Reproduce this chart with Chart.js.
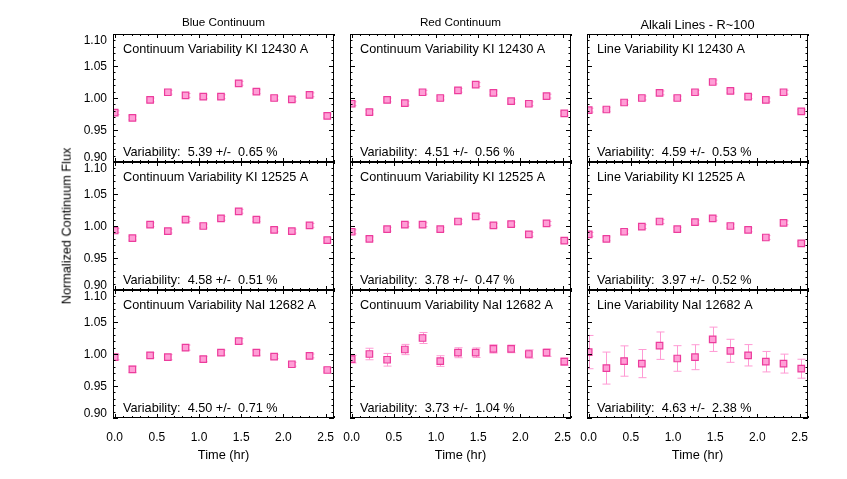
<!DOCTYPE html>
<html lang="en">
<head>
<meta charset="UTF-8">
<title>Continuum and line variability</title>
<style>
  body { margin: 0; background: #fff; font-family: "Liberation Sans", Arial, sans-serif; }
  #wrap { position: relative; width: 847px; height: 479px; overflow: hidden; background: #fff; }
  #wrap canvas { position: absolute; }
  .lbl { position: absolute; white-space: nowrap; color: #000; transform: translate(-50%, -50%); line-height: 1; }
</style>
</head>
<body>
<div id="wrap"></div>
<script src="https://cdn.jsdelivr.net/npm/chart.js@4.4.1/dist/chart.umd.min.js"></script>
<script>
// time of each exposure (hr)
const hours = [0.00, 0.21, 0.42, 0.63, 0.84, 1.05, 1.26, 1.47, 1.68, 1.89, 2.10, 2.31, 2.52];
const xTicks = ['0.0', '0.5', '1.0', '1.5', '2.0', '2.5'];
const yTicks = ['0.90', '0.95', '1.00', '1.05', '1.10'];
const columnTitles = ['Blue Continuum', 'Red Continuum', 'Alkali Lines - R~100'];

// normalized flux, one array per panel
const blueKI12430  = [0.977, 0.969, 0.997, 1.009, 1.004, 1.002, 1.002, 1.023, 1.010, 1.000, 0.998, 1.005, 0.972];
const redKI12430   = [0.991, 0.978, 0.997, 0.992, 1.009, 1.000, 1.012, 1.021, 1.008, 0.995, 0.991, 1.003, 0.976];
const lineKI12430  = [0.981, 0.982, 0.993, 1.000, 1.008, 1.000, 1.009, 1.025, 1.011, 1.002, 0.997, 1.009, 0.979];
const blueKI12525  = [0.993, 0.981, 1.002, 0.992, 1.010, 1.000, 1.012, 1.023, 1.010, 0.994, 0.992, 1.001, 0.978];
const redKI12525   = [0.991, 0.980, 0.995, 1.002, 1.002, 0.995, 1.007, 1.015, 1.001, 1.003, 0.987, 1.004, 0.977];
const lineKI12525  = [0.987, 0.980, 0.991, 0.999, 1.007, 0.995, 1.006, 1.012, 1.000, 0.994, 0.982, 1.005, 0.973];
const blueNaI12682 = [0.995, 0.976, 0.998, 0.995, 1.010, 0.992, 1.002, 1.020, 1.002, 0.996, 0.984, 0.997, 0.975];
const redNaI12682  = [0.992, 1.000, 0.991, 1.007, 1.025, 0.989, 1.002, 1.002, 1.008, 1.008, 1.000, 1.002, 0.988];
const lineNaI12682 = [1.003, 0.978, 0.989, 0.985, 1.013, 0.993, 0.995, 1.023, 1.005, 0.998, 0.988, 0.985, 0.977];

// 1-sigma errors
const errBlueKI12430  = [0.003, 0.003, 0.003, 0.003, 0.003, 0.003, 0.003, 0.003, 0.003, 0.003, 0.003, 0.003, 0.003];
const errRedKI12430   = [0.003, 0.003, 0.003, 0.003, 0.003, 0.003, 0.003, 0.003, 0.003, 0.003, 0.003, 0.003, 0.003];
const errLineKI12430  = [0.003, 0.003, 0.003, 0.003, 0.003, 0.003, 0.003, 0.003, 0.003, 0.003, 0.003, 0.003, 0.003];
const errBlueKI12525  = [0.003, 0.003, 0.003, 0.003, 0.003, 0.003, 0.003, 0.003, 0.003, 0.003, 0.003, 0.003, 0.003];
const errRedKI12525   = [0.003, 0.003, 0.003, 0.003, 0.003, 0.003, 0.003, 0.003, 0.003, 0.003, 0.003, 0.003, 0.003];
const errLineKI12525  = [0.003, 0.003, 0.003, 0.003, 0.003, 0.003, 0.003, 0.003, 0.003, 0.003, 0.003, 0.003, 0.003];
const errBlueNaI12682 = [0.004, 0.005, 0.004, 0.004, 0.004, 0.004, 0.004, 0.004, 0.004, 0.003, 0.003, 0.003, 0.003];
const errRedNaI12682  = [0.006, 0.009, 0.0099, 0.008, 0.0086, 0.0083, 0.0078, 0.0075, 0.0065, 0.006, 0.0065, 0.0057, 0.0057];
const errLineNaI12682 = [0.026, 0.025, 0.0237, 0.022, 0.0214, 0.020, 0.0195, 0.019, 0.018, 0.0167, 0.016, 0.0148, 0.0148];

const panelTitles = [
  'Continuum Variability KI 12430 A', 'Continuum Variability KI 12430 A', 'Line Variability KI 12430 A',
  'Continuum Variability KI 12525 A', 'Continuum Variability KI 12525 A', 'Line Variability KI 12525 A',
  'Continuum Variability NaI 12682 A', 'Continuum Variability NaI 12682 A', 'Line Variability NaI 12682 A'
];
const variabilityText = [
  'Variability:  5.39 +/-  0.65 %', 'Variability:  4.51 +/-  0.56 %', 'Variability:  4.59 +/-  0.53 %',
  'Variability:  4.58 +/-  0.51 %', 'Variability:  3.78 +/-  0.47 %', 'Variability:  3.97 +/-  0.52 %',
  'Variability:  4.50 +/-  0.71 %', 'Variability:  3.73 +/-  1.04 %', 'Variability:  4.63 +/-  2.38 %'
];

const panelValues = [blueKI12430, redKI12430, lineKI12430, blueKI12525, redKI12525, lineKI12525, blueNaI12682, redNaI12682, lineNaI12682];
const panelErrors = [errBlueKI12430, errRedKI12430, errLineKI12430, errBlueKI12525, errRedKI12525, errLineKI12525, errBlueNaI12682, errRedNaI12682, errLineNaI12682];

// layout
const colLeft = [113, 350, 587];
const rowTop = [34, 162, 290];
const PW = 221, PH = 128;
const PAD = { left: 50, right: 8, top: 8, bottom: 30 };
const FONT = '"Liberation Sans", Arial, sans-serif';

// IDL-like frame: inward ticks on all sides, labels, in-panel notes, error bars
const idlFrame = {
  id: 'idlFrame',
  beforeDatasetsDraw(chart, args, opts) {
    const { ctx, chartArea: a, scales: { x, y } } = chart;
    ctx.save();
    ctx.beginPath();
    ctx.rect(a.left, a.top, a.width, a.height);
    ctx.clip();
    ctx.strokeStyle = '#ff9ad4';
    ctx.lineWidth = 1;
    chart.data.datasets[0].data.forEach((p, i) => {
      const px = Math.round(x.getPixelForValue(p.x)) + 0.5;
      const t = y.getPixelForValue(p.y + opts.errors[i]);
      const b = y.getPixelForValue(p.y - opts.errors[i]);
      ctx.beginPath();
      ctx.moveTo(px, t); ctx.lineTo(px, b);
      ctx.moveTo(px - 4, t); ctx.lineTo(px + 4, t);
      ctx.moveTo(px - 4, b); ctx.lineTo(px + 4, b);
      ctx.stroke();
    });
    ctx.restore();
  },
  afterDraw(chart, args, opts) {
    const { ctx, chartArea: a, scales: { x, y } } = chart;
    ctx.save();
    ctx.strokeStyle = '#000';
    ctx.lineWidth = 1;
    ctx.strokeRect(a.left + 0.5, a.top + 0.5, a.width - 1, a.height - 1);

    ctx.beginPath();
    // x ticks, every 0.1 hr, majors at the labels
    for (let k = 0; k <= 26; k++) {
      const v = k / 10;
      const px = Math.round(x.getPixelForValue(v)) + 0.5;
      const len = k % 5 === 0 ? 4 : 2;
      ctx.moveTo(px, a.bottom); ctx.lineTo(px, a.bottom - len);
      ctx.moveTo(px, a.top); ctx.lineTo(px, a.top + len);
    }
    // y ticks, every 0.01, majors every 0.05
    for (let k = 90; k <= 110; k++) {
      const py = Math.round(y.getPixelForValue(k / 100)) + 0.5;
      const len = k % 5 === 0 ? 5 : 2.5;
      ctx.moveTo(a.left, py); ctx.lineTo(a.left + len, py);
      ctx.moveTo(a.right, py); ctx.lineTo(a.right - len, py);
    }
    ctx.stroke();

    ctx.fillStyle = '#000';
    ctx.font = '12px ' + FONT;
    if (opts.showY) {
      ctx.textAlign = 'right';
      ctx.textBaseline = 'middle';
      yTicks.forEach((t, i) => {
        let py = y.getPixelForValue(parseFloat(t)) + 1;
        if (i === 0) py -= 5;
        if (i === yTicks.length - 1) py += 6;
        ctx.fillText(t, a.left - 6, py);
      });
    }
    if (opts.showX) {
      ctx.textAlign = 'center';
      ctx.textBaseline = 'middle';
      xTicks.forEach(t => ctx.fillText(t, x.getPixelForValue(parseFloat(t)), a.bottom + 20));
    }

    ctx.font = '12.7px ' + FONT;
    ctx.textAlign = 'left';
    ctx.textBaseline = 'middle';
    ctx.fillText(opts.title, a.left + 10, a.top + 15.5);
    ctx.fillText(opts.note, a.left + 10, a.top + 118);
    ctx.restore();
  }
};

const wrap = document.getElementById('wrap');

function addLabel(text, cx, cy, size, rotate) {
  const d = document.createElement('div');
  d.className = 'lbl';
  d.textContent = text;
  d.style.left = cx + 'px';
  d.style.top = cy + 'px';
  d.style.fontSize = size + 'px';
  if (rotate) d.style.transform = 'translate(-50%, -50%) rotate(-90deg)';
  wrap.appendChild(d);
}

for (let r = 0; r < 3; r++) {
  for (let c = 0; c < 3; c++) {
    const i = r * 3 + c;
    const cv = document.createElement('canvas');
    const w = PW + PAD.left + PAD.right, h = PH + PAD.top + PAD.bottom;
    cv.width = w; cv.height = h;
    cv.style.width = w + 'px'; cv.style.height = h + 'px';
    cv.style.left = (colLeft[c] - PAD.left) + 'px';
    cv.style.top = (rowTop[r] - PAD.top) + 'px';
    wrap.appendChild(cv);

    new Chart(cv, {
      type: 'scatter',
      data: {
        datasets: [{
          data: hours.map((hr, k) => ({ x: hr, y: panelValues[i][k] })),
          pointStyle: 'rect',
          pointRadius: 4.6,
          pointBackgroundColor: '#ff9ed6',
          pointBorderColor: '#ec3c9c',
          pointBorderWidth: 1.2,
          clip: 0
        }]
      },
      options: {
        responsive: false,
        animation: false,
        devicePixelRatio: 1,
        events: [],
        layout: { padding: PAD },
        scales: {
          x: { type: 'linear', min: -0.02, max: 2.6, display: false },
          y: { type: 'linear', min: 0.9, max: 1.1, display: false }
        },
        plugins: {
          legend: { display: false },
          tooltip: { enabled: false },
          idlFrame: {
            title: panelTitles[i],
            note: variabilityText[i],
            errors: panelErrors[i],
            showY: c === 0,
            showX: r === 2
          }
        }
      },
      plugins: [idlFrame]
    });
  }
}

const colCenter = colLeft.map(l => l + PW / 2);
addLabel(columnTitles[0], colCenter[0], 22, 11.7);
addLabel(columnTitles[1], colCenter[1], 22, 11.7);
addLabel(columnTitles[2], colCenter[2], 25, 12.8);
colCenter.forEach(cx => addLabel('Time (hr)', cx, 455, 12.8));
addLabel('Normalized Continuum Flux', 67, 226, 12.7, true);
</script>
</body>
</html>
